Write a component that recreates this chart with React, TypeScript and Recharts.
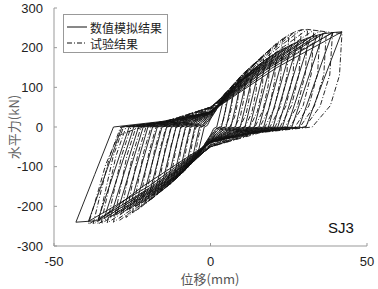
import { Line, LineChart, XAxis, YAxis } from "recharts";

// 数值模拟结果 (simulation) loops by amplitude, [位移 mm, 水平力 kN]
const sim04 = [[4,65],[3,33],[2,0],[1,-4],[0,-20],[-2,-45],[-4,-65],[-3,-33],[-2,0],[-1,4],[0,20],[2,45],[4,65]];
const sim06 = [[6,88],[4.8,44],[3.5,0],[1.8,-5],[0,-24],[-3,-59],[-6,-88],[-4.8,-44],[-3.5,0],[-1.8,5],[0,24],[3,59],[6,88]];
const sim08 = [[8,105],[6.5,53],[5,0],[2.5,-6],[0,-28],[-4,-70],[-8,-105],[-6.5,-53],[-5,0],[-2.5,6],[0,28],[4,70],[8,105]];
const sim10 = [[10,122],[8.3,61],[6.5,0],[3.3,-7],[0,-30],[-5,-81],[-10,-122],[-8.3,-61],[-6.5,0],[-3.3,7],[0,30],[5,81],[10,122]];
const sim12 = [[12,135],[10,68],[8,0],[4,-8],[0,-32],[-6,-89],[-12,-135],[-10,-68],[-8,0],[-4,8],[0,32],[6,89],[12,135]];
const sim14 = [[14,148],[11.8,74],[9.5,0],[4.8,-9],[0,-34],[-7,-97],[-14,-148],[-11.8,-74],[-9.5,0],[-4.8,9],[0,34],[7,97],[14,148]];
const sim16 = [[16,160],[13.5,80],[11,0],[5.5,-10],[0,-35],[-8,-104],[-16,-160],[-13.5,-80],[-11,0],[-5.5,10],[0,35],[8,104],[16,160]];
const sim18 = [[18,172],[15.3,86],[12.5,0],[6.3,-10],[0,-36],[-9,-111],[-18,-172],[-15.3,-86],[-12.5,0],[-6.3,10],[0,36],[9,111],[18,172]];
const sim20 = [[20,182],[17,91],[14,0],[7,-11],[0,-36],[-10,-116],[-20,-182],[-17,-91],[-14,0],[-7,11],[0,36],[10,116],[20,182]];
const sim22 = [[22,192],[18.8,96],[15.5,0],[7.8,-12],[0,-37],[-11,-122],[-22,-192],[-18.8,-96],[-15.5,0],[-7.8,12],[0,37],[11,122],[22,192]];
const sim24 = [[24,200],[20.5,100],[17,0],[8.5,-12],[0,-37],[-12,-127],[-24,-200],[-20.5,-100],[-17,0],[-8.5,12],[0,37],[12,127],[24,200]];
const sim26 = [[26,208],[22.3,104],[18.5,0],[9.3,-12],[0,-38],[-13,-132],[-26,-208],[-22.3,-104],[-18.5,0],[-9.3,12],[0,38],[13,132],[26,208]];
const sim28 = [[28,215],[24,108],[20,0],[10,-13],[0,-38],[-14,-135],[-28,-215],[-24,-108],[-20,0],[-10,13],[0,38],[14,135],[28,215]];
const sim30 = [[30,221],[25.8,111],[21.5,0],[10.8,-13],[0,-38],[-15,-139],[-30,-221],[-25.8,-111],[-21.5,0],[-10.8,13],[0,38],[15,139],[30,221]];
const sim32 = [[32,227],[27.5,114],[23,0],[11.5,-14],[0,-38],[-16,-142],[-32,-227],[-27.5,-114],[-23,0],[-11.5,14],[0,38],[16,142],[32,227]];
const sim34 = [[34,231],[29.3,116],[24.5,0],[12.3,-14],[0,-38],[-17,-144],[-34,-231],[-29.3,-116],[-24.5,0],[-12.3,14],[0,38],[17,144],[34,231]];
const sim36 = [[36,235],[31,118],[26,0],[13,-14],[0,-38],[-18,-146],[-36,-235],[-31,-118],[-26,0],[-13,14],[0,38],[18,146],[36,235]];
const sim39 = [[39,238],[33.6,119],[28.3,0],[14.1,-14],[0,-38],[-19.5,-148],[-39,-238],[-33.6,-119],[-28.3,0],[-14.1,14],[0,38],[19.5,148],[39,238]];
const sim42 = [[42,240],[36.2,120],[30.5,0],[15,-14],[0,-38],[-21.5,-149],[-36,-236],[-43,-240],[-37,-120],[-31,0],[-15.5,14],[0,38],[21,149],[42,240]];

// 试验结果 (test) loops by amplitude
const test05 = [[5,75],[4.8,41],[4.1,17],[3,0],[1.5,-5],[0,-22],[-2.5,-51],[-5,-75],[-4.4,-49],[-3.8,-23],[-3,0],[-1.5,5],[0,22],[2.5,51],[5,75]];
const test07 = [[7,96],[6.8,53],[5.9,21],[4.6,0],[2.3,-6],[0,-26],[-3.5,-65],[-7,-96],[-6.3,-62],[-5.6,-29],[-4.6,0],[-2.3,6],[0,26],[3.5,65],[7,96]];
const test09 = [[9,115],[8.7,63],[7.7,25],[6.2,0],[3.1,-7],[0,-30],[-4.5,-77],[-9,-115],[-8.2,-75],[-7.3,-35],[-6.2,0],[-3.1,7],[0,30],[4.5,77],[9,115]];
const test11 = [[11,132],[10.7,73],[9.6,29],[7.8,0],[3.9,-8],[0,-33],[-5.5,-86],[-11,-130],[-10,-85],[-9.1,-39],[-7.8,0],[-3.9,8],[0,33],[5.5,87],[11,132]];
const test13 = [[13,148],[12.6,81],[11.4,33],[9.4,0],[4.7,-9],[0,-36],[-6.5,-96],[-13,-145],[-11.9,-94],[-10.8,-44],[-9.4,0],[-4.7,9],[0,36],[6.5,98],[13,148]];
const test15 = [[15,165],[14.6,91],[13.2,36],[11,0],[5.5,-10],[0,-38],[-7.5,-104],[-15,-158],[-13.8,-103],[-12.6,-47],[-11,0],[-5.5,10],[0,38],[7.5,108],[15,165]];
const test17 = [[17,180],[16.6,99],[15,40],[12.6,0],[6.3,-11],[0,-40],[-8.5,-112],[-17,-170],[-15.7,-111],[-14.4,-51],[-12.6,0],[-6.3,11],[0,40],[8.5,117],[17,180]];
const test19 = [[19,196],[18.5,108],[16.8,43],[14.2,0],[7.1,-12],[0,-42],[-9.5,-120],[-19,-183],[-17.6,-119],[-16.1,-55],[-14.2,0],[-7.1,12],[0,42],[9.5,127],[19,196]];
const test21 = [[21,210],[20.5,116],[18.7,46],[15.8,0],[7.9,-12],[0,-44],[-10.5,-127],[-21,-195],[-19.4,-127],[-17.9,-59],[-15.8,0],[-7.9,12],[0,44],[10.5,135],[21,210]];
const test23 = [[23,222],[22.4,122],[20.5,49],[17.4,0],[8.7,-13],[0,-45],[-11.5,-134],[-23,-207],[-21.3,-135],[-19.6,-62],[-17.4,0],[-8.7,13],[0,45],[11.5,142],[23,222]];
const test25 = [[25,232],[24.4,128],[22.3,51],[19,0],[9.5,-14],[0,-46],[-12.5,-141],[-25,-218],[-23.2,-142],[-21.4,-65],[-19,0],[-9.5,14],[0,46],[12.5,148],[25,232]];
const test27 = [[27,240],[26.4,132],[24.1,53],[20.6,0],[10.3,-14],[0,-47],[-13.5,-147],[-27,-228],[-25.1,-148],[-23.2,-68],[-20.6,0],[-10.3,14],[0,47],[13.5,153],[27,240]];
const test29 = [[29,245],[28.3,135],[25.9,54],[22.2,0],[11.1,-15],[0,-48],[-14.5,-151],[-29,-235],[-27,-153],[-24.9,-71],[-22.2,0],[-11.1,15],[0,48],[14.5,156],[29,245]];
const test31 = [[31,246],[30.3,135],[27.8,54],[23.8,0],[11.9,-15],[0,-49],[-15.5,-154],[-31,-240],[-28.8,-156],[-26.7,-72],[-23.8,0],[-11.9,15],[0,49],[15.5,157],[31,246]];
const test33 = [[33,244],[32.2,134],[29.6,54],[25.4,0],[12.7,-15],[0,-50],[-16.5,-156],[-33,-242],[-30.7,-157],[-28.4,-73],[-25.4,0],[-12.7,15],[0,50],[16.5,157],[33,244]];
const test35 = [[35,242],[34.2,133],[31.4,53],[27,0],[13.5,-15],[0,-50],[-17.5,-157],[-35,-244],[-32.6,-159],[-30.2,-73],[-27,0],[-13.5,15],[0,50],[17.5,156],[35,242]];
const test37 = [[37,240],[36.2,132],[33.2,53],[28.6,0],[14.3,-14],[0,-50],[-18,-157],[-36,-245],[-33.5,-159],[-31.1,-74],[-27.8,0],[-13.9,14],[0,50],[18.5,155],[37,240]];
const test39 = [[39,238],[38.1,131],[35,52],[30.2,0],[15.1,-14],[0,-50],[-18.8,-157],[-37.5,-245],[-34.9,-159],[-32.2,-74],[-28.7,0],[-14.4,14],[0,50],[19.5,153],[39,238]];
const test42 = [[42,236],[41.2,130],[38.3,54],[32.5,0],[16,-14],[0,-50],[-19.5,-157],[-39,-245],[-36,-165],[-33.5,-95],[-29.5,-22],[-25,-8],[-17,9],[-7,30],[0,48],[12,130]];

const xTicks = [-50, 0, 50];
const yTicks = [-300, -200, -100, 0, 100, 200, 300];

const toPts = (loops: number[][][]) =>
  loops.flat().map(([x, y]) => ({ x, y }));

const simData = toPts([
  sim04, sim06, sim08, sim10, sim12, sim14, sim16, sim18, sim20, sim22,
  sim24, sim26, sim28, sim30, sim32, sim34, sim36, sim39, sim42,
]);
const testData = toPts([
  test05, test07, test09, test11, test13, test15, test17, test19, test21, test23,
  test25, test27, test29, test31, test33, test35, test37, test39, test42,
]);

const tickStyle = { fontSize: 13, fill: "#222", fontFamily: "Liberation Sans, Arial, sans-serif" };
const cjk = "'Noto Sans CJK SC', sans-serif";
const dashDot = "5 2 1 2";
const axisGrey = "#999";
const noLabel = () => "";

export default function App() {
  return (
    <div style={{ position: "absolute", left: 0, top: 0, width: 378, height: 289, background: "#fff" }}>
      <LineChart width={378} height={289} margin={{ top: 8, right: 11, bottom: 0, left: 0 }}>
        <XAxis
          dataKey="x"
          type="number"
          domain={[-50, 50]}
          ticks={xTicks}
          height={43}
          tickSize={-3}
          tickMargin={14}
          stroke={axisGrey}
          tick={tickStyle}
          allowDataOverflow
        />
        <XAxis
          xAxisId="top"
          orientation="top"
          type="number"
          domain={[-50, 50]}
          ticks={xTicks}
          height={0}
          tickSize={-3}
          tickFormatter={noLabel}
          stroke={axisGrey}
          allowDataOverflow
        />
        <YAxis
          dataKey="y"
          type="number"
          domain={[-300, 300]}
          ticks={yTicks}
          width={54}
          tickSize={-3}
          tickMargin={14}
          stroke={axisGrey}
          tick={tickStyle}
          allowDataOverflow
        />
        <YAxis
          yAxisId="right"
          orientation="right"
          type="number"
          domain={[-300, 300]}
          ticks={yTicks}
          width={0}
          tickSize={-3}
          tickFormatter={noLabel}
          stroke={axisGrey}
          allowDataOverflow
        />
        <Line
          data={testData}
          dataKey="y"
          stroke="#111"
          strokeWidth={0.9}
          strokeDasharray={dashDot}
          dot={false}
          isAnimationActive={false}
        />
        <Line
          data={simData}
          dataKey="y"
          stroke="#111"
          strokeWidth={0.9}
          dot={false}
          isAnimationActive={false}
        />
      </LineChart>
      <div
        style={{
          position: "absolute", left: 180, top: 271, width: 60, textAlign: "center",
          fontFamily: cjk, fontSize: 13, color: "#555", lineHeight: "15px",
        }}
      >
        位移(mm)
      </div>
      <div
        style={{
          position: "absolute", left: -21, top: 119, width: 70, textAlign: "center",
          fontFamily: cjk, fontSize: 13, color: "#666", lineHeight: "16px",
          transform: "rotate(-90deg)",
        }}
      >
        水平力(kN)
      </div>
      <div
        style={{
          position: "absolute", left: 63, top: 14, width: 103, height: 37,
          border: "1px solid #999", background: "#fff", fontFamily: cjk, fontSize: 12, color: "#222",
        }}
      >
        <div style={{ display: "flex", alignItems: "center", height: 16, marginTop: 4 }}>
          <svg width={23} height={4} style={{ marginLeft: 3 }}><line x1={0} y1={2} x2={20} y2={2} stroke="#111" strokeWidth={1} /></svg>
          <span>数值模拟结果</span>
        </div>
        <div style={{ display: "flex", alignItems: "center", height: 16 }}>
          <svg width={23} height={4} style={{ marginLeft: 3 }}><line x1={0} y1={2} x2={20} y2={2} stroke="#111" strokeWidth={1} strokeDasharray={dashDot} /></svg>
          <span>试验结果</span>
        </div>
      </div>
      <div style={{ position: "absolute", left: 328, top: 219, fontFamily: "Liberation Sans, Arial, sans-serif", fontSize: 15, color: "#111" }}>
        SJ3
      </div>
    </div>
  );
}
